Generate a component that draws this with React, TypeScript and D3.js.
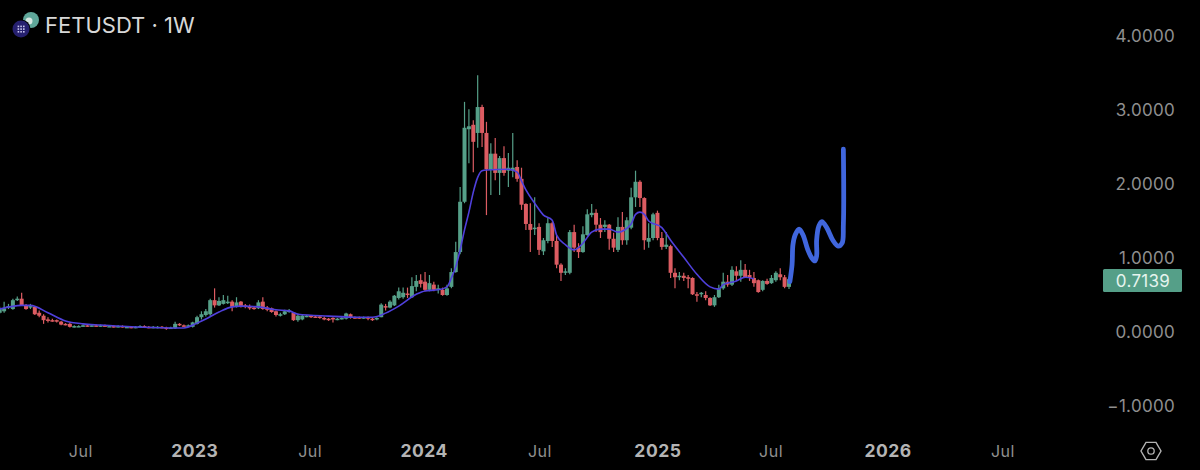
import React from "react";
import * as d3 from "d3";

const opens = [
  .26,.28,.33,.31,.43,.45,.36,.33,.34,.26, .22,.17,.16,.16,.14,.11,.11,.07,.08,.09,
  .09,.08,.09,.08,.09,.08,.08,.07,.08,.07, .07,.06,.07,.08,.07,.06,.07,.07,.06,.05,
  .05,.11,.09,.08,.07,.11,.20,.23,.24,.43, .36,.38,.39,.41,.35,.41,.36,.35,.33,.32,
  .41,.33,.32,.28,.23,.24,.27,.26,.16,.17, .21,.22,.21,.21,.19,.18,.19,.17,.18,.18,
  .24,.20,.20,.20,.20,.18,.17,.20,.35,.33, .36,.46,.47,.52,.47,.61,.70,.68,.57,.64,
  .57,.57,
  .50,.61,.81,1.08,1.76,2.74,2.80,2.69,3.04,2.69, 2.19,2.41,2.15,2.35,2.18,2.18,2.23,2.07,1.73,1.46,
  1.39,1.42,1.09,1.23,1.47,1.23,.91,.80,.80,1.35, 1.14,1.08,1.31,1.58,1.61,1.45,1.42,1.45,1.26,1.11,
  1.42,1.24,1.41,1.82,2.03,1.81,1.22,1.27,1.61,1.27, 1.15,1.16,.80,.74,.76,.74,.73,.51,.51,.50,
  .46,.36,.47,.59,.68,.64,.82,.76,.84,.77, .73,.70,.57,.69,.66,.70,.78,.74,.61,
];
const closes = [
  .32,.32,.35,.43,.45,.36,.31,.35,.24,.22, .16,.16,.15,.15,.10,.10,.07,.08,.08,.09,
  .08,.09,.08,.09,.08,.08,.07,.08,.07,.07, .06,.07,.08,.07,.06,.07,.07,.06,.04,.06,
  .11,.09,.08,.09,.13,.20,.24,.28,.43,.36, .42,.43,.41,.34,.40,.35,.34,.32,.32,.40,
  .31,.30,.27,.23,.24,.28,.29,.16,.22,.22, .22,.20,.20,.19,.17,.17,.17,.18,.19,.25,
  .20,.19,.19,.20,.18,.17,.19,.37,.33,.41, .49,.55,.53,.50,.62,.69,.65,.57,.66,.57,
  .59,.50,
  .59,.81,1.08,1.76,2.76,2.78,2.57,3.04,2.69,2.20, 2.41,2.15,2.35,2.15,2.22,2.22,2.07,1.72,1.46,1.38,
  1.41,1.11,1.24,1.47,1.23,.91,.80,.82,1.35,1.14, 1.08,1.32,1.59,1.61,1.45,1.35,1.45,1.26,1.14,1.42,
  1.24,1.51,1.82,2.03,1.81,1.24,1.27,1.59,1.27,1.15, 1.18,.80,.74,.76,.73,.73,.51,.50,.53,.46,
  .36,.47,.59,.68,.64,.84,.76,.84,.74,.73, .66,.54,.69,.65,.73,.80,.74,.61,.7139,
];
const highs = [
  .34,.41,.38,.45,.48,.53,.38,.38,.35,.29, .24,.20,.18,.17,.15,.12,.13,.09,.09,.10,
  .10,.10,.10,.10,.10,.09,.09,.09,.09,.08, .08,.08,.09,.09,.08,.08,.08,.08,.07,.07,
  .14,.12,.10,.10,.14,.22,.28,.31,.45,.59, .47,.50,.49,.43,.47,.42,.38,.37,.35,.43,
  .47,.35,.33,.29,.26,.30,.31,.27,.25,.24, .23,.23,.22,.22,.21,.19,.20,.19,.20,.26,
  .25,.21,.21,.21,.21,.19,.20,.39,.38,.43, .50,.60,.60,.60,.74,.77,.78,.81,.77,.68,
  .64,.60,
  .64,.86,1.22,1.96,3.11,3.01,2.86,3.47,3.07,2.84, 2.55,2.62,2.38,2.51,2.42,2.69,2.32,2.22,1.74,1.74,
  1.82,1.47,1.27,1.54,1.49,1.31,.93,.86,1.38,1.45, 1.20,1.43,1.66,1.73,1.66,1.54,1.51,1.46,1.34,1.55,
  1.62,1.55,1.95,2.18,2.05,1.82,1.47,1.61,1.64,1.35, 1.35,1.18,.86,.81,.80,.77,.74,.54,.54,.55,
  .47,.50,.64,.80,.77,.89,.89,.97,.92,.84, .81,.71,.70,.72,.77,.82,.86,.77,.72,
];
const lows = [
  .25,.26,.31,.30,.42,.35,.30,.31,.23,.20, .11,.13,.14,.13,.09,.09,.06,.06,.07,.07,
  .07,.07,.07,.07,.07,.07,.06,.06,.06,.06, .05,.05,.06,.06,.05,.05,.05,.05,.03,.04,
  .04,.08,.07,.07,.06,.10,.17,.21,.22,.33, .35,.37,.38,.28,.33,.33,.32,.30,.30,.31,
  .30,.28,.26,.21,.21,.23,.26,.15,.14,.16, .20,.19,.19,.18,.16,.15,.13,.16,.17,.17,
  .18,.18,.18,.18,.16,.15,.16,.20,.29,.32, .35,.44,.45,.46,.46,.55,.60,.55,.55,.55,
  .52,.49,
  .49,.59,.80,1.05,1.74,2.28,2.16,2.49,2.50,1.58, 1.85,2.05,1.85,2.11,1.96,2.09,2.03,1.65,1.38,1.08,
  1.31,1.04,1.04,1.20,1.15,.86,.69,.77,.78,1.08, 1.00,1.07,1.30,1.55,1.35,1.27,1.35,1.11,1.08,1.08,
  1.18,1.18,1.39,1.69,1.69,1.11,1.14,1.24,1.24,1.11, 1.12,.73,.59,.70,.69,.59,.50,.41,.47,.43,
  .35,.34,.46,.57,.61,.62,.69,.68,.73,.69, .61,.53,.55,.64,.65,.68,.70,.59,.58,
];

const maIndex = [0,5,7,11,15,19,23,30,39,42,45,47,50,53,55,59,63,66,68,75,82,85,88,91,95,97,100,102,103,104,105,106,107,108,109,110,111,116,118,119,120,122,124,126,127,129,131,133,135,137,139,141,144,145,146,147,148,151,153,156,159,162,164,165,168,170,172];
const maValue = [.31,.36,.36,.26,.15,.11,.095,.07,.055,.055,.12,.175,.27,.34,.35,.34,.30,.285,.24,.215,.20,.20,.255,.35,.51,.555,.57,.61,.73,.88,1.11,1.38,1.62,1.89,2.09,2.18,2.19,2.20,2.16,2.04,1.92,1.74,1.58,1.51,1.31,1.18,1.11,1.20,1.35,1.39,1.39,1.35,1.46,1.59,1.62,1.59,1.50,1.41,1.24,1.01,.78,.61,.58,.64,.69,.74,.72];

const drawIndex = [180.2,180.7,180.9,181.4,182.3,183.2,184.3,185.2,185.9,186.3,186.3,186.8,187.5,188.6,190,191.2,192.1,192.4,192.4];
const drawValue = [.68,.91,1.18,1.31,1.39,1.31,1.11,1.0,.96,1.03,1.24,1.43,1.49,1.41,1.24,1.16,1.2,1.45,2.47];

const priceTicks = [4, 3, 2, 1, 0, -1];
const timeTickIndex = [18.5,44.5,70.8,96.8,123.2,150.1,175.9,202.6,228.8];
const timeTickLabel = ["Jul","2023","Jul","2024","Jul","2025","Jul","2026","Jul"];
const lastPrice = 0.7139;

const UP = "#559f88";
const DOWN = "#dc5c62";
const SANS = "Inter, Roboto, 'Noto Sans', sans-serif";

const x = d3.scaleLinear().domain([0, 180]).range([-0.27, 789]);
const y = d3.scaleLinear().domain([-1, 4]).range([406, 36]);

const fmt = (v: number) => (v < 0 ? "\u2212" : "") + Math.abs(v).toFixed(4);

export default function App() {
  const ma = d3.line<number>().x((i) => x(maIndex[i])).y((i) => y(maValue[i])).curve(d3.curveMonotoneX);
  const drawn = d3.line<number>().x((i) => x(drawIndex[i])).y((i) => y(drawValue[i])).curve(d3.curveCatmullRom.alpha(0.5));
  const hex = d3.range(6).map((k) => {
    const a = (Math.PI / 3) * k + Math.PI / 3;
    return [1151 + 10 * Math.cos(a), 451 + 10 * Math.sin(a)].join(",");
  }).join(" ");
  return (
    <div style={{ position: "fixed", inset: 0, background: "#000" }}>
      <svg width={1200} height={470} style={{ display: "block" }} fontFamily={SANS}>
        <defs>
          <filter id="soft" x="-5%" y="-5%" width="110%" height="110%">
            <feGaussianBlur stdDeviation="0.35" />
          </filter>
        </defs>
        <rect width={1200} height={470} fill="#000" />
        <g filter="url(#soft)">
          {opens.map((o, i) => {
            const c = closes[i];
            const col = c >= o ? UP : DOWN;
            const top = y(Math.max(o, c));
            const h = Math.max(1.5, Math.abs(y(o) - y(c)));
            return (
              <g key={i}>
                <line x1={x(i)} x2={x(i)} y1={y(highs[i])} y2={y(lows[i])} stroke={col} strokeWidth={1.2} />
                <rect x={x(i) - 2} width={4} y={top} height={h} fill={col} />
              </g>
            );
          })}
          <path d={ma(d3.range(maIndex.length)) ?? ""} fill="none" stroke="#5040dc" strokeWidth={1.6} />
          <path d={drawn(d3.range(drawIndex.length)) ?? ""} fill="none" stroke="#3f66dd" strokeWidth={4.8} strokeLinecap="round" strokeLinejoin="round" />
        </g>

        {priceTicks.map((p) => (
          <text key={p} x={1175} y={y(p)} dy="0.36em" textAnchor="end" fontSize={17} fill="#8f8f8f" letterSpacing={0.3}>{fmt(p)}</text>
        ))}
        <rect x={1103} y={269} width={79} height={23} rx={1.5} fill={UP} />
        <text x={1143} y={281} dy="0.36em" textAnchor="middle" fontSize={17} fill="#e6f4ee" letterSpacing={0.3}>{lastPrice.toFixed(4)}</text>

        {timeTickIndex.map((t, i) => {
          const bold = timeTickLabel[i] !== "Jul";
          return (
            <text key={i} x={x(t)} y={451} dy="0.36em" textAnchor="middle" fontSize={bold ? 17.5 : 16} fontWeight={bold ? 700 : 400} fill={bold ? "#b4b4b4" : "#8f8f8f"} letterSpacing={0.5}>{timeTickLabel[i]}</text>
          );
        })}

        <circle cx={31} cy={20} r={8} fill="#5fa79a" />
        <circle cx={29} cy={21} r={3.5} fill="#d6e6e2" />
        <circle cx={21} cy={29} r={9.5} fill="#000" />
        <circle cx={21} cy={29} r={8.5} fill="#26206f" />
        {d3.range(9).map((k) => (
          <rect key={k} x={17.6 + (k % 3) * 2.7} y={25.6 + Math.floor(k / 3) * 2.7} width={1.6} height={1.6} fill="#c9c6ee" />
        ))}
        <text x={45} y={25} dy="0.36em" fontSize={22} fill="#d8d8d8">FETUSDT · 1W</text>

        <polygon points={hex} fill="none" stroke="#b4b4b4" strokeWidth={1.4} />
        <circle cx={1151} cy={451} r={3.2} fill="none" stroke="#b4b4b4" strokeWidth={1.3} />
      </svg>
    </div>
  );
}
